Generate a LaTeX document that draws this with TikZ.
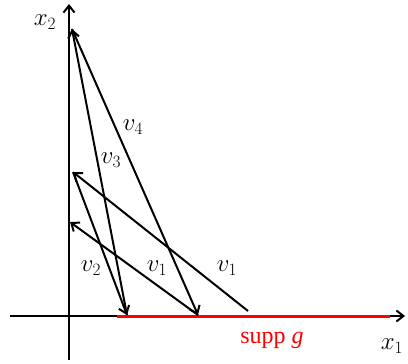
\documentclass[tikz,border=0pt]{standalone}
\usepackage{fontspec}
\setmainfont{Liberation Serif}
\usetikzlibrary{arrows.meta}
\begin{document}
\begin{tikzpicture}[x=1pt,y=-1pt,
  vec/.style={line width=2pt,-{Straight Barb[length=7pt,width=11pt,line width=2pt]}},
  ax/.style={line width=2pt,-{Straight Barb[length=7pt,width=11pt,line width=2pt]}},
  lab/.style={inner sep=0pt,font=\fontsize{27}{31}\selectfont}]
\useasboundingbox (0,0) rectangle (408,364);
\coordinate (O1) at (69,360);
\coordinate (Y) at (69,4);
\coordinate (O2) at (10,316);
\coordinate (X) at (405,316);
\coordinate (R1) at (117,316);
\coordinate (R2) at (390,316);
\coordinate (A) at (248,311);
\coordinate (B) at (73,172);
\coordinate (C) at (127,315);
\coordinate (T) at (72,29);
\coordinate (D) at (198,315);
\coordinate (E) at (70,222);
\draw[ax] (O1) -- (Y);
\draw[ax] (O2) -- (X);
\draw[red,line width=3pt] (R1) -- (R2);
\draw[vec] (A) -- (B);
\draw[vec] (B) -- (C);
\draw[vec] (C) -- (T);
\draw[vec] (T) -- (D);
\draw[vec] (D) -- (E);
\node[lab] (lx2) at (45,22) {$x_2$};
\node[lab] (lx1) at (392,346) {$x_1$};
\node[lab] (l4) at (133,127) {$v_4$};
\node[lab] (l3) at (111,160) {$v_3$};
\node[lab] (l2) at (91,268) {$v_2$};
\node[lab] (l1a) at (157,268) {$v_1$};
\node[lab] (l1b) at (227,268) {$v_1$};
\node[inner sep=0pt,text=red,font=\fontsize{24}{28}\selectfont] (s) at (272,340) {supp \textit{g}};
\end{tikzpicture}
\end{document}
